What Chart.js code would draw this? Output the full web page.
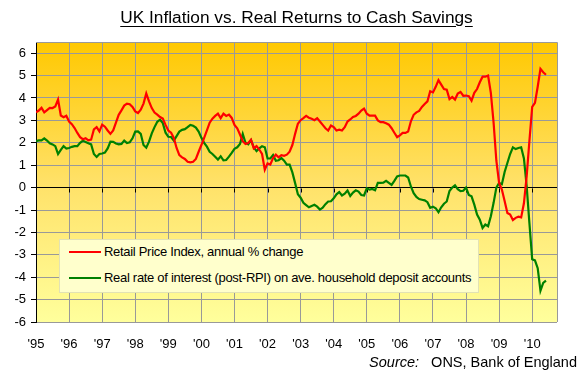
<!DOCTYPE html>
<html>
<head>
<meta charset="utf-8">
<script src="https://cdn.jsdelivr.net/npm/chart.js@4.4.0/dist/chart.umd.min.js"></script>
<style>
  html, body { margin: 0; padding: 0; background: #fff; }
  #wrap { position: relative; width: 585px; height: 378px; overflow: hidden; font-family: "Liberation Sans", Arial, sans-serif; }
  #c { position: absolute; left: 0; top: 0; }
  #title { position: absolute; left: 0; width: 593px; top: 7px; text-align: center; font-size: 17.3px; color: #000; }
  #title span { text-decoration: underline; text-underline-offset: 3px; }
  #legend { position: absolute; left: 59px; top: 239px; width: 418px; height: 52px; background: #FFFFCC; border: 1px solid #E2E2B4; }
  .item { position: absolute; left: 9px; height: 16px; font-size: 13px; line-height: 16px; color: #000; white-space: nowrap; letter-spacing: -0.3px; }
  .item .sw { position: absolute; left: 0; top: 7px; width: 32px; height: 2px; }
  .item .tx { position: absolute; left: 35px; top: 0; }
  #source { position: absolute; right: 8px; top: 354px; font-size: 14.5px; color: #000; white-space: nowrap; }
  #source i { margin-right: 8px; }
</style>
</head>
<body>
<div id="wrap">
  <canvas id="c" width="585" height="378"></canvas>
  <div id="title"><span>UK Inflation vs. Real Returns to Cash Savings</span></div>
  <div id="legend"></div>
  <div id="source"><i>Source:</i> ONS, Bank of England</div>
</div>
<script>
// ---- data (monthly, Jan 1995 onwards) ----
const startYear = 1995;
const tickLabels = ["'95","'96","'97","'98","'99","'00","'01","'02","'03","'04","'05","'06","'07","'08","'09","'10"];
const seriesNames = [
  "Retail Price Index, annual % change",
  "Real rate of interest (post-RPI) on ave. household deposit accounts"
];
const rpi = [
  3.36,3.44,3.56,3.36,3.46,3.56,3.55,3.62,3.93,3.22,3.14,3.21,
  2.95,2.83,2.66,2.44,2.25,2.16,2.20,2.11,2.14,2.60,2.70,2.51,
  2.81,2.72,2.55,2.40,2.55,2.90,3.25,3.45,3.66,3.75,3.72,3.60,
  3.40,3.33,3.48,3.75,4.20,3.85,3.55,3.35,3.26,3.15,3.08,2.80,
  2.55,2.45,2.22,1.77,1.45,1.35,1.28,1.15,1.13,1.15,1.28,1.60,
  1.90,2.22,2.55,2.90,3.08,3.20,3.30,3.10,3.30,3.20,3.26,3.11,
  2.80,2.65,2.37,2.07,1.95,1.99,2.14,1.75,1.85,1.70,1.50,0.80,
  1.08,1.03,1.32,1.47,1.35,1.45,1.42,1.47,1.60,1.90,2.40,2.85,
  3.01,3.10,3.20,3.12,3.07,3.01,3.10,2.95,2.80,2.65,2.55,2.77,
  2.70,2.55,2.59,2.55,2.70,2.95,3.04,3.15,3.20,3.30,3.44,3.53,
  3.30,3.21,3.21,3.21,3.00,2.92,2.92,2.87,2.81,2.65,2.45,2.25,
  2.33,2.44,2.44,2.50,2.96,3.25,3.36,3.42,3.60,3.73,3.85,4.30,
  4.25,4.50,4.80,4.60,4.40,4.37,3.95,4.05,3.93,4.20,4.27,4.10,
  4.11,4.08,3.88,4.23,4.40,4.70,4.95,4.95,5.00,4.23,2.90,1.20,
  0.21,-0.09,-0.60,-1.13,-1.20,-1.45,-1.35,-1.30,-1.33,-0.70,0.51,2.10,
  3.60,3.78,4.50,5.30,5.15,5.04
];
const realRate = [
  2.07,2.11,2.11,2.20,2.10,1.98,1.93,1.85,1.50,1.68,1.85,1.74,
  1.77,1.82,1.85,1.85,2.00,2.09,2.04,1.98,1.93,1.50,1.37,1.50,
  1.52,1.56,1.75,2.05,2.04,1.97,1.93,1.95,2.10,1.99,2.02,2.20,
  2.50,2.51,2.40,1.90,1.78,2.05,2.42,2.70,2.94,3.03,2.88,2.45,
  2.27,2.26,2.10,2.30,2.50,2.58,2.61,2.70,2.80,2.76,2.68,2.50,
  2.22,2.00,1.83,1.60,1.50,1.38,1.25,1.40,1.22,1.23,1.38,1.55,
  1.73,1.80,1.95,2.40,2.00,1.93,2.12,1.80,1.63,1.75,1.85,1.80,
  1.30,1.30,1.45,1.20,1.22,1.32,1.20,1.03,1.03,0.68,0.20,-0.30,
  -0.45,-0.68,-0.78,-0.88,-0.82,-0.77,-0.85,-0.98,-0.90,-0.74,-0.62,-0.61,
  -0.48,-0.30,-0.20,-0.35,-0.27,-0.13,-0.37,-0.22,-0.12,-0.18,-0.33,-0.35,
  -0.03,-0.09,-0.06,-0.12,0.21,0.21,0.22,0.30,0.21,0.12,0.30,0.50,
  0.54,0.54,0.54,0.45,0.05,-0.25,-0.42,-0.51,-0.54,-0.57,-0.65,-0.90,
  -0.85,-0.92,-1.10,-0.88,-0.72,-0.62,-0.15,0.00,0.10,-0.07,-0.16,-0.14,
  0.00,-0.33,-0.39,-0.76,-1.20,-1.43,-1.80,-1.65,-1.73,-1.28,-0.68,0.00,
  0.21,0.15,0.70,1.10,1.50,1.80,1.72,1.77,1.80,1.30,0.06,-1.60,
  -3.20,-3.25,-3.60,-4.60,-4.25,-4.15
];
const seriesColors = ["#FF0000", "#008000"];

// month labels (categories)
const monthNames = ["Jan","Feb","Mar","Apr","May","Jun","Jul","Aug","Sep","Oct","Nov","Dec"];
const months = rpi.map((_, i) => monthNames[i % 12] + " " + (startYear + Math.floor(i / 12)));

const toPoints = arr => arr.map((v, i) => ({ x: i, y: v }));

const bgPlugin = {
  id: 'bg',
  beforeDraw(chart) {
    const { ctx, chartArea: a } = chart;
    const g = ctx.createLinearGradient(0, a.top, 0, a.bottom);
    g.addColorStop(0, '#FFC800');
    g.addColorStop(0.5, '#FFE168');
    g.addColorStop(1, '#FFFF9C');
    ctx.save();
    ctx.fillStyle = g;
    ctx.fillRect(a.left, a.top, a.right - a.left, a.bottom - a.top);
    ctx.restore();
  },
  beforeDatasetsDraw(chart) {
    const { ctx, chartArea: a, scales } = chart;
    ctx.save();
    ctx.strokeStyle = '#999999';
    ctx.lineWidth = 1;
    ctx.beginPath();
    ctx.moveTo(a.left, a.top + 0.5); ctx.lineTo(a.right + 0.5, a.top + 0.5);
    ctx.lineTo(a.right + 0.5, a.bottom);
    ctx.stroke();
    const y0 = Math.round(scales.y.getPixelForValue(0)) + 0.5;
    ctx.strokeStyle = '#000';
    ctx.beginPath();
    scales.x.ticks.forEach(t => {
      if (t.value === 0) return;
      const x = Math.round(scales.x.getPixelForValue(t.value)) + 0.5;
      ctx.moveTo(x, y0); ctx.lineTo(x, y0 + 4);
    });
    ctx.stroke();
    ctx.restore();
  }
};

const chart = new Chart(document.getElementById('c'), {
  type: 'line',
  data: {
    labels: months,
    datasets: [
      { label: seriesNames[0], data: toPoints(rpi), borderColor: seriesColors[0], borderWidth: 2.2, pointRadius: 0, tension: 0, fill: false },
      { label: seriesNames[1], data: toPoints(realRate), borderColor: seriesColors[1], borderWidth: 2.2, pointRadius: 0, tension: 0, fill: false }
    ]
  },
  options: {
    responsive: false,
    devicePixelRatio: 1,
    animation: false,
    layout: { padding: { top: 42, right: 28, left: 0, bottom: 0 } },
    plugins: { legend: { display: false }, tooltip: { enabled: false }, title: { display: false } },
    scales: {
      x: {
        type: 'linear', min: 0, max: 189,
        afterFit: s => { s.height = 56; },
        border: { display: false },
        grid: { color: ctx => ctx.tick && ctx.tick.value === 0 ? '#000' : '#999999', drawTicks: false, lineWidth: 1 },
        ticks: {
          stepSize: 12, autoSkip: false, maxRotation: 0, includeBounds: false,
          padding: 15, color: '#000',
          font: { family: '"Liberation Sans", Arial, sans-serif', size: 13 },
          callback: v => tickLabels[v / 12] ?? ''
        }
      },
      y: {
        min: -6, max: 6.5,
        afterFit: s => { s.width = 36; },
        border: { color: '#000', width: 1 },
        grid: { color: ctx => ctx.tick && ctx.tick.value === 0 ? '#000' : '#999999', tickColor: '#000', tickLength: 5, lineWidth: 1 },
        ticks: {
          stepSize: 1, includeBounds: false, padding: 5, color: '#000',
          font: { family: '"Liberation Sans", Arial, sans-serif', size: 13 },
          callback: v => String(v)
        }
      }
    }
  },
  plugins: [bgPlugin]
});

const leg = document.getElementById('legend');
chart.data.datasets.forEach((ds, i) => {
  const it = document.createElement('div');
  it.className = 'item';
  it.style.top = (4 + i * 26) + 'px';
  const sw = document.createElement('div');
  sw.className = 'sw'; sw.style.background = ds.borderColor;
  const tx = document.createElement('div');
  tx.className = 'tx'; tx.textContent = ds.label;
  it.appendChild(sw); it.appendChild(tx);
  leg.appendChild(it);
});
</script>
</body>
</html>
